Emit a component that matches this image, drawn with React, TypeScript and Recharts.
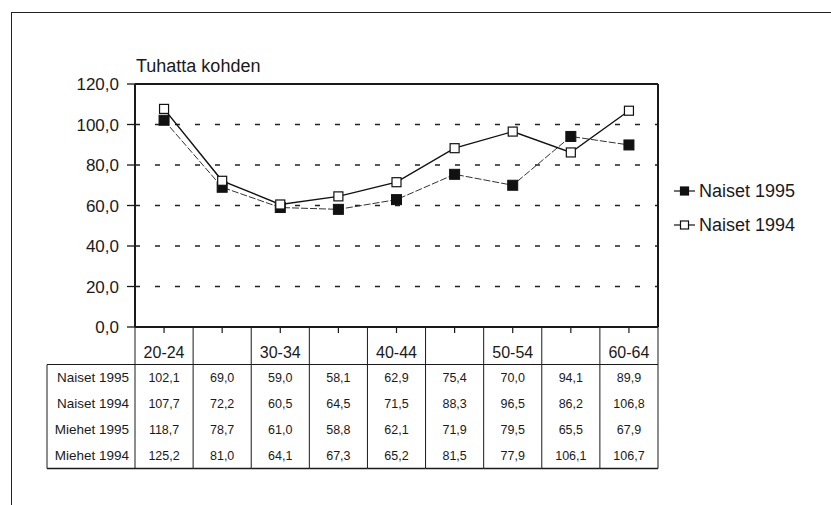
import React from 'react';
import {
  LineChart,
  Line,
  XAxis,
  YAxis,
  CartesianGrid,
  Legend,
} from 'recharts';

const categories = ['20-24', '25-29', '30-34', '35-39', '40-44', '45-49', '50-54', '55-59', '60-64'];
const headerLabels = ['20-24', '', '30-34', '', '40-44', '', '50-54', '', '60-64'];
const naiset1995 = [102.1, 69.0, 59.0, 58.1, 62.9, 75.4, 70.0, 94.1, 89.9];
const naiset1994 = [107.7, 72.2, 60.5, 64.5, 71.5, 88.3, 96.5, 86.2, 106.8];
const miehet1995 = [118.7, 78.7, 61.0, 58.8, 62.1, 71.9, 79.5, 65.5, 67.9];
const miehet1994 = [125.2, 81.0, 64.1, 67.3, 65.2, 81.5, 77.9, 106.1, 106.7];
const rowNames = ['Naiset 1995', 'Naiset 1994', 'Miehet 1995', 'Miehet 1994'];
const rowValues = [naiset1995, naiset1994, miehet1995, miehet1994];
const yTicks = [0, 20, 40, 60, 80, 100, 120];
const gridValues = [20, 40, 60, 80, 100];

const data = categories.map((c, i) => ({
  name: c,
  n1995: naiset1995[i],
  n1994: naiset1994[i],
}));

const W = 831;
const H = 505;
const MARGIN = { top: 84, right: 173, bottom: 177, left: 65 };
const Y_AXIS_W = 70;
const PLOT_W = W - MARGIN.left - Y_AXIS_W - MARGIN.right;
const BAND = PLOT_W / categories.length;

const FONT = '"Liberation Sans", Arial, sans-serif';
const INK = '#1a1a1a';

const fmt = (v: number) => v.toFixed(1).replace('.', ',');

// table under the x axis, one column per category tick
const TableTick = (props: any) => {
  const { x, y, index } = props;
  const half = BAND / 2;
  const top = y + 37.5;
  const rowH = 26;
  const bottom = top + rowH * 4;
  const left = x - half;
  const right = x + half;
  return (
    <g>
      <line x1={x} y1={y} x2={x} y2={y + 6} stroke={INK} strokeWidth={1.2} />
      <line x1={left} y1={y} x2={left} y2={bottom} stroke={INK} strokeWidth={1} />
      {index === categories.length - 1 && (
        <line x1={right} y1={y} x2={right} y2={bottom} stroke={INK} strokeWidth={1} />
      )}
      <line x1={left} y1={top} x2={right} y2={top} stroke={INK} strokeWidth={1} />
      <line x1={left} y1={bottom} x2={right} y2={bottom} stroke={INK} strokeWidth={1.5} />
      <text x={x} y={y + 25} textAnchor="middle" dominantBaseline="central" fontFamily={FONT} fontSize={16} fill={INK}>
        {headerLabels[index]}
      </text>
      {rowValues.map((vals, r) => (
        <text key={r} x={x} y={top + rowH * r + 13} textAnchor="middle" dominantBaseline="central" fontFamily={FONT} fontSize={12.5} fill={INK}>
          {fmt(vals[index])}
        </text>
      ))}
      {index === 0 && (
        <g>
          <line x1={47} y1={top} x2={left} y2={top} stroke={INK} strokeWidth={1} />
          <line x1={47} y1={bottom} x2={left} y2={bottom} stroke={INK} strokeWidth={1.5} />
          <line x1={47} y1={top} x2={47} y2={bottom} stroke={INK} strokeWidth={1} />
          {rowNames.map((n, r) => (
            <text key={n} x={left - 6} y={top + rowH * r + 13} textAnchor="end" dominantBaseline="central" fontFamily={FONT} fontSize={13.5} fill={INK}>
              {n}
            </text>
          ))}
        </g>
      )}
    </g>
  );
};

const filledSquare = (props: any) => {
  const { cx, cy, index } = props;
  return <rect key={`f-${index}`} x={cx - 5} y={cy - 5} width={10} height={10} fill="#111" stroke="#111" />;
};

const openSquare = (props: any) => {
  const { cx, cy, index } = props;
  return <rect key={`o-${index}`} x={cx - 4.5} y={cy - 4.5} width={9} height={9} fill="#fff" stroke="#111" strokeWidth={1.2} />;
};

const LegendBox = () => (
  <div style={{ fontFamily: FONT, fontSize: 18, color: INK }}>
    {[
      { label: 'Naiset 1995', filled: true },
      { label: 'Naiset 1994', filled: false },
    ].map((item) => (
      <div key={item.label} style={{ display: 'flex', alignItems: 'center', height: 34 }}>
        <svg width={22} height={14} style={{ marginRight: 3 }}>
          <line x1={0} y1={7} x2={21} y2={7} stroke="#111" strokeWidth={1.2} />
          <rect x={6.5} y={3} width={8} height={8} fill={item.filled ? '#111' : '#fff'} stroke="#111" strokeWidth={1.2} />
        </svg>
        <span>{item.label}</span>
      </div>
    ))}
  </div>
);

export default function App() {
  return (
    <div style={{ position: 'absolute', left: 0, top: 0, width: W, height: H, overflow: 'hidden', background: '#fff' }}>
      <div
        style={{
          position: 'absolute',
          left: 11,
          top: 12,
          right: -10,
          bottom: -10,
          borderLeft: '1.5px solid #222',
          borderTop: '1.5px solid #222',
        }}
      />
      <div
        style={{
          position: 'absolute',
          left: 136,
          top: 57,
          fontFamily: FONT,
          fontSize: 18,
          lineHeight: '18px',
          color: INK,
        }}
      >
        Tuhatta kohden
      </div>
      <LineChart width={W} height={H} data={data} margin={MARGIN} style={{ position: 'absolute', left: 0, top: 0 }}>
        <CartesianGrid
          vertical={false}
          stroke="#222"
          strokeDasharray="5 15"
          strokeWidth={1.3}
          horizontalValues={gridValues}
        />
        {/* solid frame: top and right edges of the plot */}
        <CartesianGrid
          stroke={INK}
          strokeWidth={2}
          horizontalCoordinatesGenerator={({ offset }: any) => [offset.top]}
          verticalCoordinatesGenerator={({ offset }: any) => [offset.left + offset.width]}
        />
        <XAxis
          dataKey="name"
          interval={0}
          height={1}
          padding={{ left: BAND / 2, right: BAND / 2 }}
          axisLine={{ stroke: INK, strokeWidth: 2 }}
          tickLine={false}
          tickSize={0}
          tickMargin={0}
          tick={(p: any) => <TableTick key={p.index} {...p} />}
        />
        <YAxis
          width={Y_AXIS_W}
          domain={[0, 120]}
          ticks={yTicks}
          interval={0}
          tickFormatter={fmt}
          axisLine={{ stroke: INK, strokeWidth: 2 }}
          tickLine={{ stroke: INK, strokeWidth: 1.3 }}
          tickSize={8}
          tickMargin={8}
          tick={{ fill: INK, fontSize: 17, fontFamily: FONT }}
        />
        <Line
          dataKey="n1995"
          name="Naiset 1995"
          stroke="#333"
          strokeWidth={1}
          strokeDasharray="7 2"
          dot={filledSquare}
          activeDot={false}
          isAnimationActive={false}
        />
        <Line
          dataKey="n1994"
          name="Naiset 1994"
          stroke="#111"
          strokeWidth={1.4}
          dot={openSquare}
          activeDot={false}
          isAnimationActive={false}
        />
        <Legend
          layout="horizontal"
          verticalAlign="middle"
          align="center"
          content={() => <LegendBox />}
          wrapperStyle={{ left: 674, top: 174, width: 150 }}
        />
      </LineChart>
    </div>
  );
}
